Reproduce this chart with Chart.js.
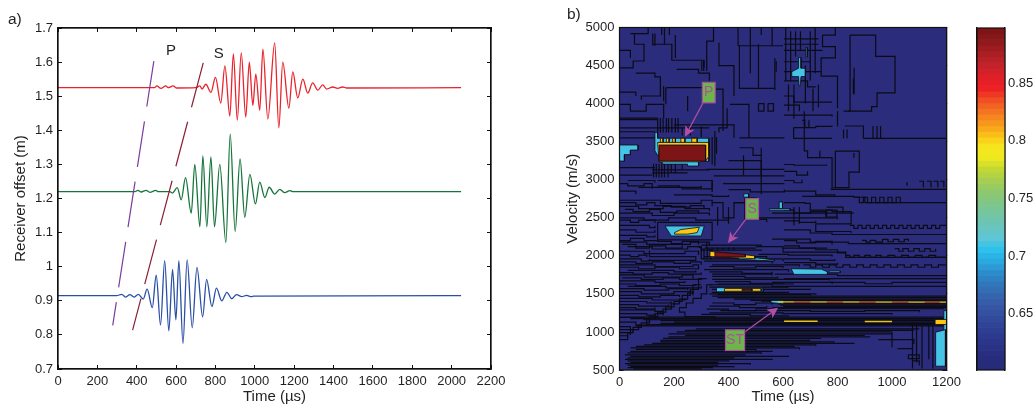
<!DOCTYPE html>
<html>
<head>
<meta charset="utf-8">
<title>Receiver traces and velocity map</title>
<script src="https://cdn.jsdelivr.net/npm/chart.js@4"></script>
<style>
body { margin: 0; background: #fff; }
#page { position: relative; width: 1033px; height: 410px; overflow: hidden; }
canvas { position: absolute; top: 0; }
.panel { position: absolute; font: 15.5px "Liberation Sans", Arial, sans-serif; color: #231f20; }
</style>
</head>
<body>
<div id="page">
  <canvas id="traceChart" width="530" height="410" style="left:0"></canvas>
  <canvas id="velocityChart" width="440" height="410" style="left:530px"></canvas>
  <canvas id="colorbarChart" width="63" height="410" style="left:970px"></canvas>
  <div class="panel" style="left:8px;top:10px">a)</div>
  <div class="panel" style="left:567px;top:5px">b)</div>
</div>
<script>
// Left panel: traces, time in microseconds, offset in metres (extrema)
const redTime = [0,490,502,523,547,560,585,603,700,721,732,751,777,800,827,848,873,891,911,931,954,972,990,1005,1025,1041,1066,1101,1122,1142,1173,1193,1218,1244,1269,1294,1320,1345,1365,1396,1421,1447,1467,2048];
const redOffset = [1.525,1.525,1.530,1.523,1.530,1.525,1.530,1.524,1.525,1.530,1.521,1.535,1.511,1.555,1.480,1.589,1.442,1.624,1.430,1.627,1.439,1.600,1.473,1.565,1.459,1.638,1.433,1.656,1.407,1.600,1.465,1.571,1.495,1.550,1.509,1.539,1.518,1.533,1.521,1.527,1.523,1.527,1.524,1.525];
const greenTime = [0,391,406,423,447,467,497,509,568,581,606,626,648,677,695,721,736,756,777,795,822,853,875,900,925,949,975,1003,1025,1051,1073,1101,1127,1152,1178,1193,2048];
const greenOffset = [1.220,1.220,1.224,1.219,1.224,1.218,1.224,1.220,1.220,1.216,1.232,1.196,1.261,1.157,1.300,1.117,1.325,1.117,1.322,1.117,1.300,1.071,1.389,1.103,1.316,1.145,1.271,1.184,1.248,1.203,1.233,1.213,1.227,1.217,1.223,1.220,1.220];
const blueTime = [0,298,323,345,365,386,408,433,453,479,499,521,542,563,582,599,614,635,656,682,706,735,755,782,805,832,858,883,907,934,958,983,995,2048];
const blueOffset = [0.915,0.915,0.919,0.911,0.918,0.911,0.919,0.905,0.934,0.880,0.975,0.829,1.018,0.812,0.992,0.844,1.018,0.775,1.020,0.821,0.998,0.853,0.963,0.883,0.937,0.900,0.925,0.906,0.918,0.912,0.916,0.912,0.914,0.915];
const pPickTime = [487, 278];
const pPickOffset = [1.603, 0.828];
const sPickTime = [738, 379];
const sPickOffset = [1.598, 0.814];
const traceLabels = ['P', 'S'];
const traceLabelTime = [574, 817];
const traceLabelOffset = [1.633, 1.624];

// Right panel: contour blobs as [time, velocity]
const cyanBlobs = [
  [[0,3456],[68,3456],[68,3390],[40,3390],[40,3330],[18,3330],[18,3245],[0,3245]],
  [[130,3620],[140,3620],[140,3545],[328,3545],[328,3240],[290,3240],[290,3180],[250,3180],[250,3205],[160,3205],[130,3380]],
  [[657,4605],[666,4605],[666,4465],[682,4465],[682,4355],[666,4355],[663,4232],[659,4232],[657,4355],[632,4355],[632,4420],[657,4465]],
  [[684,4737],[689,4737],[689,4614],[684,4614]],
  [[167,2392],[311,2392],[300,2261],[190,2261]],
  [[438,1984],[500,1975],[568,1945],[568,1932],[438,1955]],
  [[356,1581],[527,1581],[527,1528],[356,1528]],
  [[630,1831],[740,1825],[763,1790],[763,1756],[640,1756]],
  [[769,1800],[810,1800],[810,1780],[769,1780]],
  [[556,1414],[604,1414],[604,1370],[556,1385]],
  [[550,2620],[626,2620],[626,2600],[550,2600]],
  [[586,2708],[598,2708],[598,2620],[586,2620]],
  [[456,2815],[474,2815],[474,2771],[456,2771]],
  [[1160,997],[1196,1030],[1196,550],[1160,550]],
  [[1190,1280],[1200,1280],[1200,1000],[1190,1000]]
];
const yellowBlobs = [
  [[140,3490],[328,3490],[328,3310],[316,3245],[290,3235],[145,3235]],
  [[150,3545],[160,3545],[160,3490],[150,3490]],
  [[172,3545],[182,3545],[182,3490],[172,3490]],
  [[195,3545],[205,3545],[205,3490],[195,3490]],
  [[225,3545],[240,3545],[240,3490],[225,3490]],
  [[265,3545],[285,3545],[285,3490],[265,3490]],
  [[202,2305],[225,2345],[293,2375],[285,2305],[250,2285],[202,2285]],
  [[332,2059],[497,2000],[497,1962],[332,1990]],
  [[385,1570],[520,1570],[520,1535],[385,1535]],
  [[1158,1164],[1200,1164],[1200,1098],[1158,1098]]
];
const redBlobs = [
  [[145,3456],[316,3456],[316,3245],[145,3245]],
  [[350,2050],[462,2020],[462,1985],[350,1985]],
  [[450,1565],[486,1565],[486,1540],[450,1540]]
];
const yellowStreaks = [[[580,1395],[1200,1392]],[[604,1140],[727,1140]],[[900,1138],[1000,1138]]];
const redStreaks = [[[640,1392],[700,1392]],[[760,1392],[820,1392]],[[880,1392],[940,1392]],[[1000,1392],[1060,1392]],[[1120,1392],[1175,1392]]];

const contourLines = [
  [[40,4920],[105,5000]],[[55,4920],[55,4780],[90,4560],[50,4470],[0,4470]],
  [[122,4920],[122,4760]],[[130,4920],[130,4760]],[[122,4780],[192,4570],[310,4470]],
  [[165,5000],[165,4780]],[[155,5000],[155,4900]],[[183,5000],[183,4900]],[[205,4900],[205,4600]],
  [[345,5000],[345,4820],[320,4560],[320,4430]],[[302,4560],[302,4430]],[[309,4560],[309,4430]],
  [[435,5000],[435,4760]],[[440,4760],[440,4200],[570,4180],[570,4600]],[[510,4780],[510,4210]],[[435,4760],[600,4760]],
  [[560,5000],[560,4760]],[[520,5000],[520,4900]],[[480,4900],[480,4400]],[[575,4560],[575,4420]],
  [[170,4210],[310,4190],[380,3950],[380,3640]],[[170,4210],[170,3990]],[[162,4230],[162,4030]],
  [[0,3990],[40,3900],[98,3990],[162,3810]],[[0,3810],[140,3810]],[[0,3790],[140,3790]],
  [[0,3680],[330,3680]],[[0,3630],[130,3630]],[[0,3550],[130,3550]],[[200,3720],[330,3720],[420,3550]],
  [[140,3810],[140,3620]],[[150,3810],[150,3620]],[[160,3810],[160,3620]],[[172,3810],[172,3620]],[[180,3810],[180,3620]],[[192,3810],[192,3620]],[[205,3810],[205,3620]],[[215,3810],[215,3620]],[[230,3680],[230,3580]],[[260,3680],[260,3580]],[[300,3700],[300,3560]],
  [[125,3210],[125,3030]],[[135,3210],[135,3030]],[[145,3210],[145,3030]],[[155,3210],[155,3030]],[[165,3210],[165,3030]],[[178,3210],[178,3030]],[[190,3210],[190,3090]],[[205,3210],[205,3090]],[[230,3200],[230,3130]],
  [[120,3130],[330,3130]],[[120,3090],[250,3090]],[[340,3560],[340,3200]],[[350,3640],[350,3180]],[[356,3560],[356,3340]],
  [[0,3160],[130,3160]],[[0,3060],[120,3060]],[[30,2990],[130,2960]],[[0,2850],[60,2810]],[[140,2990],[340,2840]],[[70,2900],[230,2880],[340,2990]],
  [[405,3990],[475,3800],[475,3550]],[[395,3940],[395,3680],[365,3620]],[[510,4000],[530,3900],[510,4000]],[[545,4000],[565,3900],[545,4000]],
  [[440,3550],[605,3550]],[[440,3420],[490,3320],[520,3420]],[[455,3320],[455,3060]],[[520,3320],[520,3060]],
  [[346,3050],[605,3050]],[[320,3135],[605,3135]],[[400,3250],[520,3250],[520,2810]],[[380,2950],[605,2950]],[[400,2870],[480,2840],[605,2870]],
  [[0,4700],[40,4600]],[[60,4400],[130,4350],[150,4100],[80,4050]],[[0,4150],[60,4100]],[[365,4800],[365,4500],[420,4400],[420,4100]],[[480,5000],[480,4900]],
  [[210,4450],[290,4400],[330,4300]],[[250,4100],[250,3900]],[[0,2950],[30,2920],[90,2950],[120,2880]],[[140,2920],[220,2900],[300,2920]],[[200,2800],[340,2780],[400,2800]],[[420,2700],[460,2760],[500,2700]],

  [[840,3900],[846,4900]],[[846,4900],[940,4620],[1011,4140],[945,3960],[925,3900],[822,3900]],[[745,4900],[792,5000]],
  [[745,4900],[745,4750],[792,4600],[740,4360],[800,4150],[800,3940]],[[700,4950],[700,4300]],[[718,5000],[718,4400]],
  [[610,5000],[610,4300]],[[628,4950],[628,4300]],[[646,4950],[646,4620]],[[664,4950],[664,4700]],[[682,4500],[682,4000]],[[710,4200],[710,3900]],[[730,4250],[730,3950]],[[620,4250],[620,3900]],[[640,4250],[640,3800]],
  [[604,4850],[730,4850]],[[604,4780],[730,4780]],[[604,4420],[740,4420]],[[604,3850],[780,3830]],
  [[861,4470],[861,4120]],[[858,4330],[858,4130]],[[604,4700],[640,4700],[745,4700]],[[604,4550],[700,4550]],[[604,4300],[690,4220],[720,4220]],[[604,4100],[640,4020],[780,4020]],[[604,3980],[660,3900]],
  [[895,3544],[1200,3544]],[[827,3706],[895,3544]],[[822,3660],[822,3544]],[[835,3660],[835,3544]],[[930,3706],[930,3544]],[[945,3706],[945,3544]],[[958,3706],[958,3544]],
  [[639,3684],[720,3700],[780,3710]],[[639,3684],[639,3544],[780,3544]],[[670,3780],[680,3780],[680,3680]],[[695,3780],[695,3680]],[[800,3900],[800,3700]],
  [[678,3900],[678,3380],[690,3290],[755,3290],[780,2872]],[[792,3377],[870,3377],[880,3100],[842,2895],[785,2895],[792,3377]],[[735,3380],[735,3290]],[[860,3350],[860,3290]],
  [[775,2872],[1200,2872]],[[1052,2960],[1055,2920]],[[1100,2980],[1115,2900]],[[1128,2980],[1143,2900]],[[1152,2980],[1168,2900]],[[1176,2980],[1190,2900]],
  [[604,3200],[640,3190],[760,3200]],[[604,3110],[650,3060],[690,3110]],[[604,2990],[640,2960],[670,3000]],[[604,2850],[720,2800],[790,2780]],

  [[0,2730],[150,2690],[300,2730],[340,2650]],[[0,2650],[70,2620],[160,2650],[240,2620],[330,2590]],[[0,2560],[120,2530],[200,2560],[330,2530]],
  [[0,2500],[90,2470],[180,2500],[280,2470],[400,2500]],[[140,2440],[340,2210],[140,2210],[140,2440]],[[0,2400],[110,2370],[130,2400]],[[0,2340],[60,2310],[130,2340]],[[0,2270],[100,2250],[130,2270]],
  [[0,2700],[60,2670],[100,2700],[130,2660],[190,2640],[260,2660],[310,2620]],[[20,2610],[50,2580],[110,2610],[150,2570],[210,2590],[290,2560]],[[0,2470],[40,2440],[70,2470],[130,2430]],
  [[340,2700],[380,2500],[420,2700],[460,2480],[540,2440]],[[360,2640],[360,2400]],[[400,2640],[400,2420]],[[560,2560],[860,2560]],[[480,2500],[604,2500],[800,2480]],
  [[670,2780],[860,2770],[900,2700],[1200,2690]],
  [[863,2770],[880,2700],[895,2770],[910,2700],[925,2770],[940,2700],[955,2770],[970,2700],[985,2770],[1000,2700],[1015,2770],[1030,2700]],
  [[604,2700],[680,2690],[700,2600],[780,2580],[850,2530],[850,2420],[720,2420],[720,2320],[850,2300]],[[760,2640],[820,2640],[820,2560]],[[640,2640],[640,2400]],[[660,2640],[660,2420]],
  [[604,2600],[640,2560],[700,2580],[760,2520]],[[604,2460],[660,2440],[720,2460]],[[757,2600],[798,2510],[757,2510],[757,2600]],[[604,2200],[650,2170],[720,2190],[780,2150]],[[604,2130],[660,2100],[760,2110]],[[604,1960],[700,1940],[790,1960]],[[604,1910],[720,1890],[800,1910]],
  [[845,2400],[860,2360],[875,2400],[890,2360],[905,2400],[920,2360],[935,2400],[950,2360],[965,2400],[980,2360],[995,2400],[1010,2360],[1025,2400],[1040,2360],[1055,2400],[1070,2360],[1085,2400],[1100,2360],[1115,2400],[1130,2360],[1145,2400],[1160,2360],[1175,2400],[1200,2360]],
  [[604,2340],[700,2300],[780,2280],[845,2280],[1200,2260]],[[890,2204],[905,2180],[920,2204],[940,2180],[965,2215],[985,2185],[1005,2215],[1025,2185],[1045,2215],[1060,2190]],
  [[560,2220],[700,2180],[840,2160],[1200,2130]],[[1010,2094],[1025,2060],[1040,2094],[1060,2060],[1080,2094],[1100,2060],[1120,2094],[1140,2060],[1160,2094]],
  [[830,2006],[845,1980],[860,2006],[880,1980],[900,2006],[920,1980],[940,2006],[960,1980],[985,2006],[1010,1980],[1035,2006],[1060,1980],[1085,2006],[1110,1980],[1135,2006],[1160,1980],[1200,2006]],
  [[600,2100],[720,2080],[800,2040],[830,1980],[1200,1950]],[[500,2120],[600,2050],[830,2060]],[[510,2020],[620,2010],[780,1990]],
  [[675,1880],[700,1850],[720,1880],[745,1850],[770,1880],[795,1850],[820,1880],[845,1850],[870,1880],[895,1850],[920,1880],[945,1850],[970,1880],[995,1850],[1020,1880],[1045,1850],[1070,1880],[1095,1850],[1120,1880],[1145,1850],[1170,1880],[1200,1850]],
  [[570,1760],[800,1740],[1200,1757]],[[780,1700],[1200,1700]],[[770,1650],[900,1633],[1000,1650],[1200,1633]],[[604,1700],[780,1690]],[[560,1650],[780,1630]],[[560,1600],[1200,1580]],

  [[0,2180],[100,2150],[260,2180],[330,2130]],[[30,2120],[120,2090],[250,2120],[300,2060]],[[0,2060],[90,2030],[240,2060],[290,2010]],[[110,2070],[110,1990],[260,1990],[280,1940],[110,1940]],
  [[0,2200],[40,2230],[90,2200],[140,2190],[190,2160],[230,2190],[290,2150]],[[10,2150],[60,2100],[110,2130],[170,2100],[230,2140]],[[0,2010],[40,1990],[70,2010],[100,1980]],
  [[0,1960],[80,1930],[110,1960]],[[0,1880],[130,1860],[270,1880],[290,1830]],[[30,1810],[200,1790],[280,1810]],[[0,1750],[90,1720],[230,1750],[270,1700]],[[0,1670],[130,1650],[240,1670]],
  [[0,1920],[60,1900],[120,1920],[200,1900],[260,1920],[300,1880]],[[0,1850],[70,1830],[130,1850],[220,1830],[290,1850]],[[0,1780],[50,1760],[120,1780],[180,1760],[300,1780]],[[10,1710],[80,1690],[160,1710],[220,1690],[300,1700]],
  [[0,1630],[60,1610],[150,1630],[220,1610],[280,1630]],[[0,1570],[90,1550],[180,1570],[250,1550]],[[0,1480],[70,1460],[150,1480],[220,1460]],[[0,1400],[100,1380],[190,1400]],[[0,1320],[60,1300],[130,1320]],
  [[30,1600],[170,1580],[300,1600]],[[0,1530],[80,1500],[200,1530],[270,1480]],[[0,1440],[120,1420],[240,1440]],[[0,1360],[70,1340],[180,1360]],
  [[320,2180],[320,2100],[500,2100]],[[300,2140],[520,2120]],[[290,2110],[300,1960]],[[300,2090],[310,1960]],[[312,2100],[322,1960]],[[325,2080],[335,1950]],[[340,2110],[340,2070]],[[360,2110],[360,2070]],[[380,2110],[380,2070]],[[400,2110],[400,2070]],[[420,2110],[420,2070]],
  [[300,2075],[520,2065]],[[310,1990],[540,1960]],[[300,1960],[600,1930]],[[310,1930],[560,1900]],[[340,1880],[660,1860]],[[310,1820],[620,1790]],[[340,1760],[560,1740]],[[340,1690],[770,1680]],[[330,1620],[560,1600]],[[330,1590],[620,1590]],[[340,1520],[620,1510]],[[330,1500],[720,1490]],
  [[330,1860],[420,1840],[500,1860],[600,1840]],[[330,1790],[450,1770],[560,1790]],[[340,1730],[460,1710],[580,1730]],[[350,1660],[480,1640],[600,1650]],[[360,1630],[640,1630]],[[340,1560],[500,1555]],[[530,1560],[700,1550]],[[360,1490],[700,1480]],
  [[340,1380],[420,1360],[500,1380],[560,1360]],[[330,1340],[440,1320],[540,1340]],[[320,1300],[400,1280],[500,1300]],[[300,1230],[480,1210],[620,1220]],

  [[320,1700],[290,1560],[260,1480],[230,1400],[200,1330],[170,1260],[140,1200],[110,1120],[80,1060],[50,990],[30,900],[0,870]],
  [[340,1620],[320,1500],[300,1440],[270,1380],[245,1320],[220,1260],[240,1200],[350,1160]],[[300,1620],[270,1510],[250,1430],[220,1370],[190,1300],[160,1240],[130,1170],[100,1090],[70,1030],[40,960]],
  [[0,1290],[130,1270],[160,1220]],[[0,1240],[100,1220],[130,1180]],[[0,1190],[90,1160],[110,1120]],[[0,1130],[60,1090],[80,1060]],[[0,1070],[40,1040]],[[0,1030],[50,1010]],[[0,990],[40,970]],[[0,950],[30,930]],

  [[340,1470],[1200,1470]],[[360,1450],[1200,1450]],[[420,1430],[1200,1430]],[[480,1415],[1200,1415]],[[520,1405],[1200,1405]],[[560,1382],[1200,1382]],[[580,1368],[1200,1368]],[[590,1352],[1200,1352]],[[600,1336],[1200,1336]],[[560,1320],[1200,1320]],[[500,1305],[1190,1305]],
  [[370,1280],[700,1270],[900,1280],[1100,1260]],[[330,1250],[600,1240],[1000,1230]],[[0,1195],[1200,1195]],[[40,1175],[1200,1175]],[[100,1160],[1200,1160]],[[150,1148],[1200,1148]],[[200,1128],[1200,1128]],[[150,1112],[1200,1112]],[[100,1095],[1200,1095]],[[60,1080],[1200,1080]],
  [[280,1040],[1100,1040]],[[240,1020],[1080,1020]],[[210,1000],[1000,1000]],[[180,975],[1000,975]],[[240,955],[900,955]],[[180,935],[920,935]],[[160,915],[740,915]],
  [[150,890],[700,890]],[[150,870],[790,870]],[[120,850],[860,840]],[[90,830],[720,815]],[[60,810],[640,795]],[[40,790],[660,770]],[[60,770],[500,750]],[[40,745],[560,735]],[[30,725],[520,710]],[[20,700],[460,690]],[[40,680],[620,670]],[[30,660],[420,650]],[[20,640],[560,630]],[[30,620],[400,610]],[[40,600],[360,590]],[[20,585],[480,570]],[[30,565],[360,555]],[[40,545],[420,535]],[[30,530],[340,520]],[[50,515],[300,510]],
  [[1000,1000],[1000,800]],[[1075,1130],[1075,520]],[[1090,1100],[1090,600]],[[1110,1080],[1110,520]],[[1135,1080],[1135,640]],[[1150,1100],[1150,520]],[[950,900],[1080,840]],[[1020,780],[1075,780]],[[1060,700],[1100,650],[1060,700]],[[1075,620],[1100,560]]
];

// Callouts on the right panel
const calloutLabels = ['P', 'S', 'ST'];
const calloutBoxes = [[304,4279,351,4010],[463,2752,510,2480],[389,1028,459,756]];
const calloutArrows = [[306,4006,240,3563],[463,2480,398,2168],[462,1006,582,1318]];

// Colour bar: band edges top to bottom, one colour per band
const colorbarEdges = [0.898,0.893,0.888,0.883,0.878,0.873,0.868,0.863,0.858,0.853,0.848,0.843,0.838,0.833,0.828,0.823,0.818,0.813,0.808,0.803,0.798,0.793,0.788,0.783,0.778,0.773,0.768,0.763,0.758,0.753,0.748,0.743,0.738,0.733,0.728,0.723,0.718,0.713,0.708,0.703,0.698,0.693,0.688,0.683,0.678,0.673,0.668,0.663,0.658,0.653,0.648,0.643,0.638,0.633,0.628,0.623,0.618,0.613,0.608,0.603,0.601];
const colorbarColors = ['#7e1416','#86171a','#8f1a1d','#9c1c20','#ab1f24','#b72126','#c4222a','#d2212a','#e01f26','#e72027','#ed2224','#ee3824','#f04e23','#f26222','#f47521','#f6871f','#f8971d','#f9aa1b','#fbbe17','#f9d21a','#f6e51e','#f3e81f','#eee91f','#d9e02a','#c4d834','#b4d343','#a5cf52','#99cb60','#8dc86f','#86c77c','#7fc68a','#78c597','#72c5a5','#6dc5b1','#69c5bd','#63c5ca','#5dc6d8','#45c3e3','#2dc1ee','#2bb5e7','#2aa9e0','#2b9ad5','#2c8ccb','#2e81c3','#3176bb','#336db4','#3564ad','#365da9','#3656a5','#3450a0','#324a9c','#304497','#2e3f93','#2c3a8e','#2b368a','#293285','#282e80','#272c7d','#262b7a','#262a78'];
const colorbarTicks = [0.65, 0.7, 0.75, 0.8, 0.85];

const FONT = '"Liberation Sans", Arial, sans-serif';
const INK = '#231f20';
Chart.defaults.font.family = FONT;
Chart.defaults.font.size = 13;
Chart.defaults.color = INK;
Chart.defaults.animation = false;
Chart.defaults.plugins.legend.display = false;
Chart.defaults.plugins.tooltip.enabled = false;

function toPoints(xs, ys) {
    return xs.map((x, i) => ({ x: x, y: ys[i] }));
}

function pairsToPoints(pairs) {
    return pairs.map(p => ({ x: p[0], y: p[1] }));
}

// Axis helper: ticks point inward, hence the negative tick length
function axisOptions(min, max, step, size, showLabels, extra) {
    return Object.assign({
        type: 'linear',
        min: min,
        max: max,
        border: { color: '#111', width: 1.2 },
        grid: { drawOnChartArea: false, tickLength: -4, tickColor: '#111', tickWidth: 1 },
        ticks: {
            display: showLabels,
            stepSize: step,
            autoSkip: false,
            maxRotation: 0,
            padding: 9,
            callback: v => String(+v.toFixed(2))
        },
        afterFit: function(scale) {
            if (scale.isHorizontal()) scale.height = size; else scale.width = size;
        }
    }, extra);
}

// Frame around the plot area, drawn last
const framePlugin = {
    id: 'frame',
    afterDatasetsDraw(chart) {
        const a = chart.chartArea;
        const ctx = chart.ctx;
        ctx.save();
        ctx.strokeStyle = '#111';
        ctx.lineWidth = 1.2;
        ctx.strokeRect(a.left, a.top, a.right - a.left, a.bottom - a.top);
        ctx.restore();
    }
};

function initTraceChart() {
    const labelsPlugin = {
        id: 'traceLabels',
        afterDatasetsDraw(chart) {
            const ctx = chart.ctx;
            ctx.save();
            ctx.font = '15px ' + FONT;
            ctx.fillStyle = INK;
            ctx.textAlign = 'center';
            ctx.textBaseline = 'middle';
            traceLabels.forEach((label, i) => {
                ctx.fillText(label, chart.scales.x.getPixelForValue(traceLabelTime[i]), chart.scales.y.getPixelForValue(traceLabelOffset[i]));
            });
            ctx.restore();
        }
    };
    const trace = (xs, ys, color) => ({
        data: toPoints(xs, ys), showLine: true, borderColor: color, borderWidth: 1.3,
        pointRadius: 0, cubicInterpolationMode: 'monotone'
    });
    const pick = (xs, ys, color) => ({
        data: toPoints(xs, ys), showLine: true, borderColor: color, borderWidth: 1.2,
        pointRadius: 0, borderDash: [46, 15]
    });
    new Chart(document.getElementById('traceChart'), {
        type: 'scatter',
        data: {
            datasets: [
                pick(pPickTime, pPickOffset, '#7d3c98'),
                pick(sPickTime, sPickOffset, '#8a1f35'),
                trace(redTime, redOffset, '#e9232b'),
                trace(greenTime, greenOffset, '#17753c'),
                trace(blueTime, blueOffset, '#2a4fa6')
            ]
        },
        options: {
            responsive: false,
            layout: { padding: { top: 28, right: 39, bottom: 0, left: 0 } },
            scales: {
                x: axisOptions(0, 2200, 200, 41, true, {
                    position: 'bottom',
                    title: { display: true, text: 'Time (\u00b5s)', font: { size: 15 }, padding: { top: 0, bottom: 4 } }
                }),
                x2: axisOptions(0, 2200, 200, 0, false, { position: 'top', axis: 'x' }),
                y: axisOptions(0.7, 1.7, 0.1, 58, true, {
                    position: 'left',
                    title: { display: true, text: 'Receiver offset (m)', font: { size: 15 }, padding: { top: 12, bottom: 0 } }
                }),
                y2: axisOptions(0.7, 1.7, 0.1, 0, false, { position: 'right', axis: 'y' })
            }
        },
        plugins: [labelsPlugin, framePlugin]
    });
}

function initVelocityChart() {
    const backgroundPlugin = {
        id: 'mapBackground',
        beforeDatasetsDraw(chart) {
            const a = chart.chartArea;
            chart.ctx.save();
            chart.ctx.fillStyle = '#2b2c7c';
            chart.ctx.fillRect(a.left, a.top, a.right - a.left, a.bottom - a.top);
            chart.ctx.restore();
        }
    };
    const calloutPlugin = {
        id: 'callouts',
        afterDatasetsDraw(chart) {
            const ctx = chart.ctx;
            const xs = chart.scales.x;
            const ys = chart.scales.y;
            ctx.save();
            calloutLabels.forEach((label, i) => {
                const b = calloutBoxes[i];
                const left = xs.getPixelForValue(b[0]), top = ys.getPixelForValue(b[1]);
                const w = xs.getPixelForValue(b[2]) - left, h = ys.getPixelForValue(b[3]) - top;
                ctx.fillStyle = '#6db54a';
                ctx.strokeStyle = '#a8519c';
                ctx.lineWidth = 1.2;
                ctx.fillRect(left, top, w, h);
                ctx.strokeRect(left, top, w, h);
                ctx.fillStyle = '#a8519c';
                ctx.font = '14px ' + FONT;
                ctx.textAlign = 'center';
                ctx.textBaseline = 'middle';
                ctx.fillText(label, left + w / 2, top + h / 2);

                const a = calloutArrows[i];
                const x0 = xs.getPixelForValue(a[0]), y0 = ys.getPixelForValue(a[1]);
                const x1 = xs.getPixelForValue(a[2]), y1 = ys.getPixelForValue(a[3]);
                const angle = Math.atan2(y1 - y0, x1 - x0);
                ctx.strokeStyle = ctx.fillStyle = '#b34fa3';
                ctx.beginPath();
                ctx.moveTo(x0, y0);
                ctx.lineTo(x1 - 4 * Math.cos(angle), y1 - 4 * Math.sin(angle));
                ctx.stroke();
                ctx.beginPath();
                ctx.moveTo(x1, y1);
                ctx.lineTo(x1 - 12 * Math.cos(angle - 0.45), y1 - 12 * Math.sin(angle - 0.45));
                ctx.lineTo(x1 - 8 * Math.cos(angle), y1 - 8 * Math.sin(angle));
                ctx.lineTo(x1 - 12 * Math.cos(angle + 0.45), y1 - 12 * Math.sin(angle + 0.45));
                ctx.closePath();
                ctx.fill();
            });
            ctx.restore();
        }
    };
    const blob = (pairs, color) => ({
        data: pairsToPoints(pairs.concat([pairs[0]])), showLine: true, pointRadius: 0,
        borderColor: '#0b0b14', borderWidth: 0.8, backgroundColor: color, fill: 'shape'
    });
    const streak = (pairs, color, width) => ({
        data: pairsToPoints(pairs), showLine: true, pointRadius: 0, borderColor: color, borderWidth: width
    });
    const contour = pairs => ({
        data: pairsToPoints(pairs), showLine: true, pointRadius: 0, stepped: true,
        borderColor: '#0b0b14', borderWidth: 1.2
    });
    // first dataset is painted last
    const datasets = []
        .concat(redStreaks.map(p => streak(p, '#8a1c1c', 1.4)))
        .concat(yellowStreaks.map(p => streak(p, '#e6c41e', 1.4)))
        .concat(redBlobs.map(p => blob(p, '#7d1416')))
        .concat(yellowBlobs.map(p => blob(p, '#fdc514')))
        .concat(cyanBlobs.map(p => blob(p, '#45c4e6')))
        .concat(contourLines.map(contour));
    new Chart(document.getElementById('velocityChart'), {
        type: 'scatter',
        data: { datasets: datasets },
        options: {
            responsive: false,
            layout: { padding: { top: 27.5, right: 11.5, bottom: 0, left: 0 } },
            scales: {
                x: axisOptions(0, 1200, 200, 40, true, {
                    position: 'bottom',
                    title: { display: true, text: 'Time (\u00b5s)', font: { size: 15 }, padding: { top: 0, bottom: 4 } }
                }),
                x2: axisOptions(0, 1200, 200, 0, false, { position: 'top', axis: 'x' }),
                y: axisOptions(500, 5000, 500, 89.5, true, {
                    position: 'left',
                    title: { display: true, text: 'Velocity (m/s)', font: { size: 15 }, padding: { top: 34, bottom: 0 } }
                }),
                y2: axisOptions(500, 5000, 500, 0, false, { position: 'right', axis: 'y' })
            }
        },
        plugins: [backgroundPlugin, calloutPlugin, framePlugin]
    });
}

function initColorbar() {
    const fixTicks = scale => { scale.ticks = colorbarTicks.map(v => ({ value: v })); };
    const datasets = colorbarColors.map((color, i) => ({
        data: [[colorbarEdges[i + 1], colorbarEdges[i]]],
        backgroundColor: color, borderWidth: 0, barPercentage: 1, categoryPercentage: 1, grouped: false
    }));
    const labelAxis = axisOptions(0.601, 0.898, 0.05, 28, true, { position: 'right', afterBuildTicks: fixTicks });
    labelAxis.ticks.padding = 7;
    new Chart(document.getElementById('colorbarChart'), {
        type: 'bar',
        data: { labels: ['c'], datasets: datasets },
        options: {
            responsive: false,
            layout: { padding: { top: 28, bottom: 40, left: 7, right: 0 } },
            scales: {
                x: { display: false },
                y: labelAxis,
                y1: axisOptions(0.601, 0.898, 0.05, 0, false, { position: 'left', axis: 'y', afterBuildTicks: fixTicks })
            }
        },
        plugins: [framePlugin]
    });
}

initTraceChart();
initVelocityChart();
initColorbar();
</script>
</body>
</html>
